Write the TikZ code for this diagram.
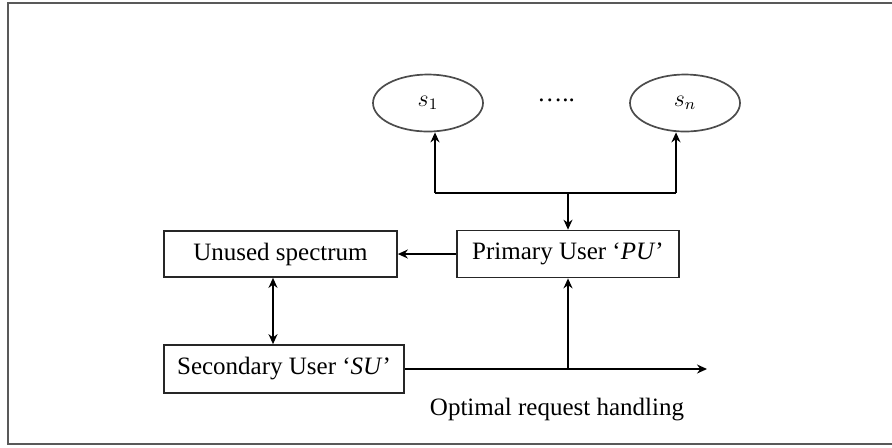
\documentclass[tikz,border=0pt]{standalone}
\usepackage{fontspec}
\setmainfont{Liberation Serif}
\usetikzlibrary{arrows.meta,shapes.geometric}
\begin{document}
\begin{tikzpicture}[x=0.5pt,y=-0.5pt,
  every node/.style={font=\fontsize{12.5}{15}\selectfont},
  blockbox/.style={draw=black!85,line width=0.85pt,rectangle,inner sep=0pt},
  setnode/.style={draw=black!70,line width=0.85pt,ellipse,minimum width=55pt,minimum height=28.5pt,inner sep=0pt},
  conn/.style={line width=0.8pt,draw=black},
  tip/.style={-{Stealth[length=5pt,width=4.5pt]}},
  dtip/.style={{Stealth[length=5pt,width=4.5pt]}-{Stealth[length=5pt,width=4.5pt]}}]
\useasboundingbox (0,0) rectangle (892,447);
\draw[draw=black!65,line width=1.1pt] (900,3) -- (8,3) -- (8,444) -- (900,444);
% ellipses
\node[setnode] (s1) at (428,103) {\large$s_1$};
\node[setnode] (sn) at (685,103) {\large$s_n$};
\node (dots) at (556,100) {…..};
% boxes
\node[blockbox,minimum width=111pt,minimum height=23.5pt] (pu) at (568,254) {Primary User ‘\textit{PU}’};
\node[blockbox,minimum width=116.5pt,minimum height=23pt] (un) at (280.5,254) {Unused spectrum};
\node[blockbox,minimum width=120pt,minimum height=24pt] (su) at (284,369) {Secondary User ‘\textit{SU}’};
\node (opt) at (557,410) {Optimal request handling};
% junctions
\coordinate (jl) at (435,193);
\coordinate (jr) at (676,193);
\coordinate (jm) at (pu.north |- jl);
\coordinate (end) at (707,369);
\coordinate (jb) at (pu.south |- end);
\draw[conn] (jl) -- (jr);
\draw[conn,tip] (jl) -- (jl |- s1.south);
\draw[conn,tip] (jr) -- (jr |- sn.south);
\draw[conn,tip] (jm) -- (pu.north);
\draw[conn,tip] (pu.west) -- (un.east);
\draw[conn,dtip] (273,0 |- un.south) -- (273,0 |- su.north);
\draw[conn,tip] (su.east) -- (end);
\draw[conn,tip] (jb) -- (pu.south);
\end{tikzpicture}
\end{document}
